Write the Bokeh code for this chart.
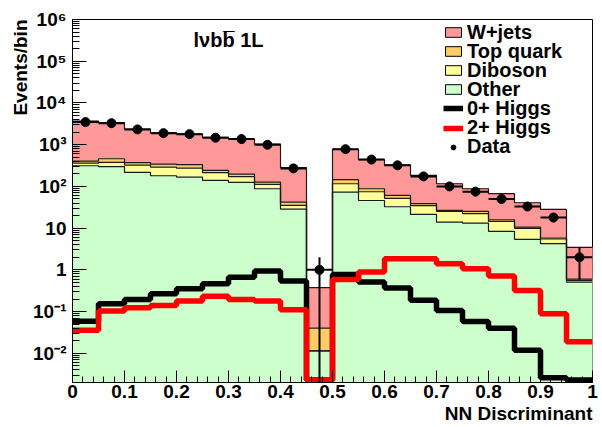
import math
from bokeh.plotting import figure
from bokeh.models import FixedTicker, Label, Legend, LegendItem, Range1d, Title
from bokeh.embed import file_html
from bokeh.resources import INLINE

# ---------------- data ----------------
bin_lo = [0.00, 0.05, 0.10, 0.15, 0.20, 0.25, 0.30, 0.35, 0.40, 0.45,
          0.50, 0.55, 0.60, 0.65, 0.70, 0.75, 0.80, 0.85, 0.90, 0.95]
bin_hi = [0.05, 0.10, 0.15, 0.20, 0.25, 0.30, 0.35, 0.40, 0.45, 0.50,
          0.55, 0.60, 0.65, 0.70, 0.75, 0.80, 0.85, 0.90, 0.95, 1.00]

other     = [313, 297, 216, 180, 167, 139, 125, 88, 28.6, 0.0114,
             73, 46, 32.6, 21.3, 14, 13.2, 8.4, 5.4, 4.25, 0.51]
diboson   = [48, 79, 108, 110, 107, 74, 46, 24, 6.4, 0.0,
             43, 28.5, 19, 13.2, 11.2, 9, 6.1, 4.5, 1.25, 0.05]
top_quark = [43, 84, 46, 52, 57, 29, 26, 15, 7, 0.029,
             29, 13.5, 9.4, 4, 1.4, 3, 1.4, 0.7, 0.3, 0.04]
wjets     = [3256, 2940, 1990, 1588, 1459, 1248, 1163, 903, 239, 0.335,
             625, 347, 263, 144.5, 89.4, 62.8, 51.1, 30, 22.3, 2.86]
data      = [3480, 3280, 2320, 1890, 1790, 1470, 1360, 995, 270, 1,
             780, 440, 320, 174, 100, 75, 50, 33, 18, 2]
higgs_0p  = [0.059, 0.155, 0.196, 0.268, 0.354, 0.467, 0.67, 0.94, 0.54, 0.0023,
             0.77, 0.51, 0.367, 0.186, 0.107, 0.058, 0.040, 0.0118, 0.0026, 0.0023]
higgs_2p  = [0.0356, 0.103, 0.124, 0.141, 0.179, 0.232, 0.196, 0.179, 0.111, 0.0023,
             0.59, 0.89, 1.85, 1.85, 1.41, 1.07, 0.71, 0.32, 0.089, 0.019]

xtick_values = [0, 0.1, 0.2, 0.3, 0.4, 0.5, 0.6, 0.7, 0.8, 0.9, 1]
xtick_labels = ["0", "0.1", "0.2", "0.3", "0.4", "0.5", "0.6", "0.7", "0.8", "0.9", "1"]
ytick_values = [0.01, 0.1, 1, 10, 100, 1000, 10000, 100000, 1000000]
ytick_labels = ["10\u207b\u00b2", "10\u207b\u00b9", "1", "10", "10\u00b2", "10\u00b3",
                "10\u2074", "10\u2075", "10\u2076"]

legend_labels = ["W+jets", "Top quark", "Diboson", "Other", "0+ Higgs", "2+ Higgs", "Data"]
channel_label = "l\u03bdbb\u0305 1L"
x_title = "NN Discriminant"
y_title = "Events/bin"

# ---------------- style ----------------
FONT = "Liberation Sans"
C_W, C_TOP, C_DIB, C_OTH = "#ff9999", "#ffcc66", "#ffff99", "#ccffcc"
YMIN, YMAX = 0.002, 1e6

p = figure(width=598, height=427, y_axis_type="log",
           x_range=Range1d(0, 1), y_range=Range1d(YMIN, YMAX),
           output_backend="svg", toolbar_location=None, title=None,
           min_border_left=72, min_border_right=6, min_border_top=19, min_border_bottom=45)
p.xgrid.visible = False
p.ygrid.visible = False
p.outline_line_color = "black"
p.outline_line_width = 1
p.background_fill_color = "white"
p.border_fill_color = "white"

# cumulative stack
c1 = other
c2 = [a + b for a, b in zip(c1, diboson)]
c3 = [a + b for a, b in zip(c2, top_quark)]
c4 = [a + b for a, b in zip(c3, wjets)]
base = [YMIN * 0.5] * len(bin_lo)

for bot, top, col in [(c3, c4, C_W), (c2, c3, C_TOP), (c1, c2, C_DIB), (base, c1, C_OTH)]:
    p.quad(left=bin_lo, right=bin_hi, bottom=bot, top=top,
           fill_color=col, line_color=col, line_width=1)

edges = bin_lo + [bin_hi[-1]]
for c in (c1, c2, c3, c4):
    p.step(x=edges, y=c + [c[-1]], mode="after", line_color="#1a1a1a", line_width=1.2)

# Higgs signals
r_h0 = p.step(x=edges, y=higgs_0p + [higgs_0p[-1]], mode="after", line_color="black", line_width=5.5)
r_h2 = p.step(x=edges, y=higgs_2p + [higgs_2p[-1]], mode="after", line_color="#ff0000", line_width=5.5)

# data with errors
centers = [(a + b) / 2 for a, b in zip(bin_lo, bin_hi)]
err_lo = [max(d - math.sqrt(d), YMIN * 0.5) for d in data]
err_hi = [d + math.sqrt(d) for d in data]
p.segment(x0=bin_lo, x1=bin_hi, y0=data, y1=data, line_color="black", line_width=2)
p.segment(x0=centers, x1=centers, y0=err_lo, y1=err_hi, line_color="black", line_width=2)
r_da = p.scatter(x=centers, y=data, size=9, color="black")

# legend swatch proxies for filled components (kept outside the visible x range)
def swatch(col):
    return p.quad(left=[-1.0], right=[-0.9], bottom=[1.0], top=[2.0],
                  fill_color=col, line_color="black", line_width=1)

legend_renderers = [swatch(C_W), swatch(C_TOP), swatch(C_DIB), swatch(C_OTH), r_h0, r_h2, r_da]
legend_style = dict(orientation="vertical", background_fill_alpha=0, border_line_color=None,
                    label_text_font=FONT, label_text_font_style="bold",
                    label_text_font_size="20px", label_text_baseline="middle",
                    label_text_color="black", glyph_width=20, glyph_height=12,
                    label_height=19, label_standoff=4, padding=0, margin=0, spacing=0)
for i, (lab, rend) in enumerate(zip(legend_labels, legend_renderers)):
    center = 32 + 19.1 * i            # row centre, px below the top of the canvas
    p.add_layout(Legend(items=[LegendItem(label=lab, renderers=[rend])],
                        location=(371, 382 - center - 11.5), **legend_style))

# axes
xa = p.xaxis[0]
xa.ticker = FixedTicker(ticks=xtick_values, minor_ticks=[i * 0.02 for i in range(51)])
xa.major_label_overrides = dict(zip(xtick_values, xtick_labels))
ya = p.yaxis[0]
ya.ticker = FixedTicker(ticks=ytick_values,
                        minor_ticks=[k * 10.0 ** e for e in range(-3, 6) for k in range(2, 10)])
ya.major_label_overrides = dict(zip(ytick_values, ytick_labels))
for ax in (xa, ya):
    ax.axis_line_color = "black"
    ax.major_tick_line_color = "black"
    ax.minor_tick_line_color = "black"
    ax.major_tick_out = 0
    ax.minor_tick_out = 0
    ax.major_label_text_font = FONT
    ax.major_label_text_font_style = "bold"
    ax.major_label_text_font_size = "19px"
    ax.major_label_text_color = "black"
xa.major_tick_in = 12
xa.minor_tick_in = 6
xa.major_label_standoff = 2
ya.major_tick_in = 14
ya.minor_tick_in = 7
ya.major_label_standoff = 6

# axis titles (ROOT style: aligned to the end of each axis)
title_style = dict(text_font=FONT, text_font_style="bold", text_font_size="19px",
                   text_color="black", align="right", standoff=0, offset=0)
p.add_layout(Title(text=x_title, **title_style), "below")
p.add_layout(Title(text=y_title, **title_style), "left")

# channel label
p.add_layout(Label(x=0.2327, y=3.14e5, text=channel_label, text_font=FONT,
                   text_font_style="bold", text_font_size="20px",
                   text_baseline="alphabetic", text_color="black"))

open("out.html", "w").write(file_html(p, INLINE))
